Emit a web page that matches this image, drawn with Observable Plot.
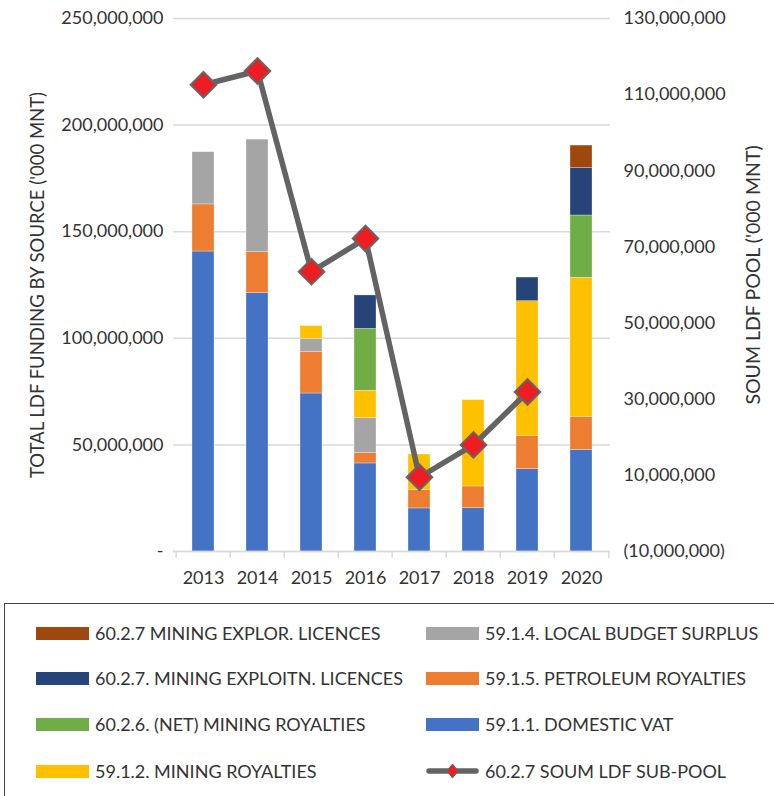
<!DOCTYPE html>
<html><head><meta charset="utf-8">
<script src="https://cdn.jsdelivr.net/npm/d3@7"></script>
<script src="https://cdn.jsdelivr.net/npm/@observablehq/plot@0.6"></script>
<style>
body{margin:0;background:#fff;font-family:Lato,sans-serif;}
#wrap{position:relative;width:774px;height:796px;overflow:hidden;}
#legend{position:absolute;left:4px;top:603px;width:800px;height:220px;border:1.5px solid #444;box-sizing:border-box;}
.item{position:absolute;display:flex;align-items:center;height:20px;font-size:18px;color:#333;white-space:nowrap;}
.sw{display:inline-block;width:53px;height:13px;margin-right:6px;}
</style></head><body><div id="wrap"><div id="chart"></div><div id="legend"></div></div>
<script>
// values in millions of '000 MNT
const years = ["2013","2014","2015","2016","2017","2018","2019","2020"];
const domesticVat      = [140.7,121.2,74.1,41.3,20.2,20.3,38.6,47.7];
const petroleumRoy     = [22.1,19.2,19.4,4.8,8.6,10.2,15.5,15.3];
const localSurplus     = [24.5,52.8,6.3,16.4,0,0,0,0];
const miningRoy        = [0,0,5.9,12.9,16.7,40.5,63.3,65.4];
const netMiningRoy     = [0,0,0,29.0,0,0,0,29.2];
const exploitnLicences = [0,0,0,15.7,0,0,11.1,22.2];
const explorLicences   = [0,0,0,0,0,0,0,10.6];
const soumPool         = [112.6,116.2,63.5,72.2,9.5,18.0,31.9,null];

const seriesNames = ["59.1.1. DOMESTIC VAT","59.1.5. PETROLEUM ROYALTIES","59.1.4. LOCAL BUDGET SURPLUS","59.1.2. MINING ROYALTIES","60.2.6. (NET) MINING ROYALTIES","60.2.7. MINING EXPLOITN. LICENCES","60.2.7 MINING EXPLOR. LICENCES"];
const seriesColors = ["#4472C4","#ED7D31","#A5A5A5","#FFC000","#70AD47","#264478","#9E480E"];
const seriesValues = [domesticVat,petroleumRoy,localSurplus,miningRoy,netMiningRoy,exploitnLicences,explorLicences];
const lineName = "60.2.7 SOUM LDF SUB-POOL";
const leftTicks = [0,50,100,150,200,250];
const rightTicks = [-10,10,30,50,70,90,110,130];
const leftTitle = "TOTAL LDF FUNDING BY SOURCE ('000 MNT)";
const rightTitle = "SOUM LDF POOL ('000 MNT)";

const M = 1e6;
const leftMax = 250*M, rMin = -10*M, rMax = 130*M;
const toLeft = v => (v - rMin) / (rMax - rMin) * leftMax;
const fromLeft = v => v / leftMax * (rMax - rMin) + rMin;
const fmt = d3.format(",");

const rows = [];
seriesNames.forEach((s,i) => years.forEach((y,j) => { if (seriesValues[i][j]) rows.push({year:y, series:s, value:seriesValues[i][j]*M}); }));
const poolRows = years.map((y,j)=>({year:y, value: soumPool[j]==null?null:soumPool[j]*M})).filter(d=>d.value!=null);

const W=774, mL=173, mR=164, step=(W-mL-mR)/years.length;

const chart = Plot.plot({
  width: W, height: 600,
  marginLeft: mL, marginRight: mR, marginTop: 18, marginBottom: 49,
  style: {fontFamily: "Lato, sans-serif", fontSize: "18px", color: "#333", background: "white", overflow: "visible"},
  x: {domain: years, paddingInner: 0.6, paddingOuter: 0.3, label: null},
  y: {domain: [0, leftMax], label: null},
  color: {domain: seriesNames, range: seriesColors},
  marks: [
    Plot.gridY(leftTicks.map(v=>v*M), {stroke: "#d9d9d9", strokeOpacity: 1, strokeWidth: 1.5}),
    Plot.barY(rows, {x: "year", y: "value", fill: "series", order: seriesNames, stroke: "#fff", strokeOpacity: 0.5, strokeWidth: 0.6}),
    Plot.ruleY([0], {stroke: "#d9d9d9", strokeWidth: 1.5}),
    Plot.ruleX(years, {x: d=>d, dx: -step/2, y1: 0, y2: -3.2*M, stroke: "#d9d9d9", strokeWidth: 1.5}),
    Plot.ruleX([years[years.length-1]], {x: d=>d, dx: step/2, y1: 0, y2: -3.2*M, stroke: "#d9d9d9", strokeWidth: 1.5}),
    Plot.axisY(leftTicks.map(v=>v*M), {anchor: "left", tickSize: 0, tickPadding: 10, label: null, tickFormat: v => v===0 ? "-" : fmt(v), fill: "#333"}),
    Plot.axisY(rightTicks.map(v=>toLeft(v*M)), {anchor: "right", tickSize: 0, tickPadding: 13, label: null, tickFormat: v => { const r = Math.round(fromLeft(v)); return r<0 ? "("+fmt(-r)+")" : fmt(r); }, fill: "#333"}),
    Plot.axisX({tickSize: 0, tickPadding: 20, label: null, fill: "#333"}),
    Plot.text([leftTitle], {frameAnchor: "left", textAnchor: "middle", dx: -135, rotate: -90, fontSize: 18.5, fill: "#333"}),
    Plot.text([rightTitle], {frameAnchor: "right", textAnchor: "middle", dx: 143, dy: -10, rotate: -90, fontSize: 19.5, fill: "#333"}),
    Plot.line(poolRows, {x: "year", y: d => toLeft(d.value), stroke: "#636363", strokeWidth: 5.5}),
    Plot.dot(poolRows, {x: "year", y: d => toLeft(d.value), symbol: "diamond2", r: 11.5, fill: "#EE1D23", stroke: "#666", strokeWidth: 2})
  ]
});
document.getElementById("chart").appendChild(chart);

// legend
const legendOrder = [
  ["60.2.7 MINING EXPLOR. LICENCES", 0, 0],
  ["60.2.7. MINING EXPLOITN. LICENCES", 0, 1],
  ["60.2.6. (NET) MINING ROYALTIES", 0, 2],
  ["59.1.2. MINING ROYALTIES", 0, 3],
  ["59.1.4. LOCAL BUDGET SURPLUS", 1, 0],
  ["59.1.5. PETROLEUM ROYALTIES", 1, 1],
  ["59.1.1. DOMESTIC VAT", 1, 2],
  [lineName, 1, 3]
];
const leg = document.getElementById("legend");
const colX = [31, 421], rowY = [19, 64, 110, 157];
legendOrder.forEach(([name,c,r]) => {
  const div = document.createElement("div");
  div.className = "item";
  div.style.left = colX[c] + "px";
  div.style.top = (rowY[r]) + "px";
  if (name === lineName) {
    div.innerHTML = `<svg width="53" height="20" style="margin-right:6px"><line x1="3" y1="10" x2="50" y2="10" stroke="#636363" stroke-width="5.5" stroke-linecap="round"/><path d="M26.5,3 L32,10 L26.5,17 L21,10 Z" fill="#EE1D23" stroke="#666" stroke-width="1"/></svg><span>${name}</span>`;
  } else {
    const col = seriesColors[seriesNames.indexOf(name)];
    div.innerHTML = `<span class="sw" style="background:${col}"></span><span>${name}</span>`;
  }
  leg.appendChild(div);
});
</script>
</body></html>
